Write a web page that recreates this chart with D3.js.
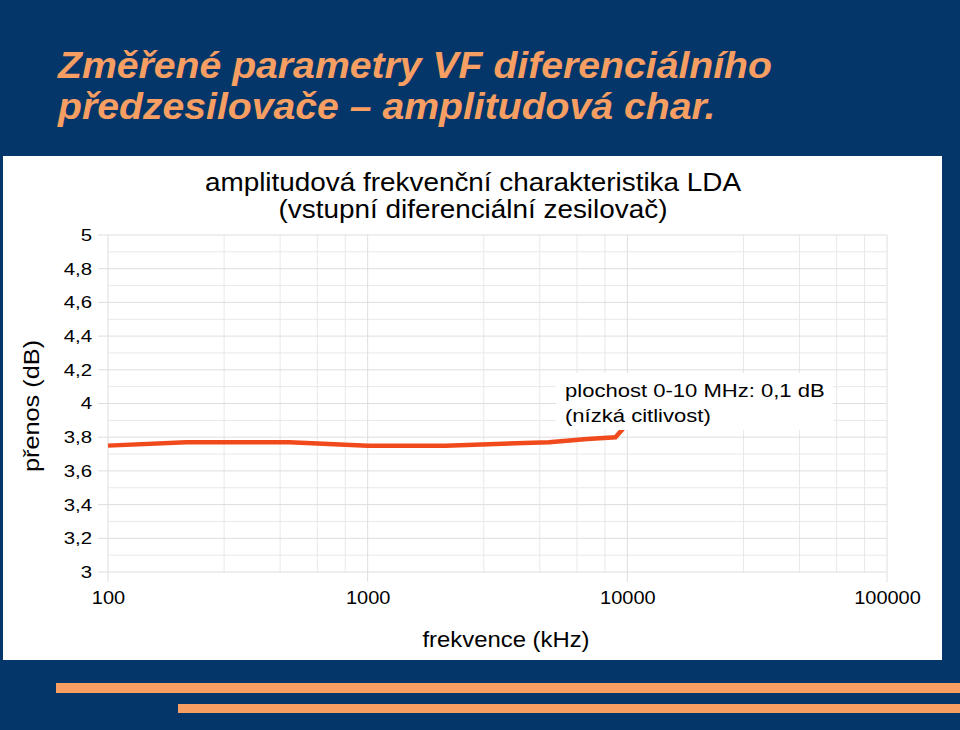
<!DOCTYPE html>
<html><head><meta charset="utf-8">
<script src="https://cdn.jsdelivr.net/npm/d3@7"></script>
<style>html,body{margin:0;padding:0;background:#05366a;}svg{display:block;}</style>
</head><body>
<script>
const freqs = [100, 200, 500, 1000, 2000, 5000, 7000, 9000, 10000];
const gains = [3.75, 3.77, 3.77, 3.75, 3.75, 3.77, 3.79, 3.80, 3.88];
const yTicks = [3, 3.2, 3.4, 3.6, 3.8, 4, 4.2, 4.4, 4.6, 4.8, 5];
const xTicks = [100, 1000, 10000, 100000];
const slideTitle = ["Změřené parametry VF diferenciálního", "předzesilovače – amplitudová char."];
const chartTitle = ["amplitudová frekvenční charakteristika LDA", "(vstupní diferenciální zesilovač)"];
const note = ["plochost 0-10 MHz: 0,1 dB", "(nízká citlivost)"];

const W = 960, H = 730;
const svg = d3.select("body").append("svg").attr("width", W).attr("height", H);
svg.append("rect").attr("width", W).attr("height", H).attr("fill", "#05366a");

const font = "'Liberation Sans', Arial, sans-serif";
const orange = "#f79e63";

// stretch a text horizontally by factor sx (glyphs widened)
function stretch(sel, sx) {
  sel.each(function () {
    const w = this.getComputedTextLength();
    d3.select(this).attr("textLength", w * sx).attr("lengthAdjust", "spacingAndGlyphs");
  });
}

// slide title
svg.append("g").selectAll("text").data(slideTitle).join("text")
  .attr("x", 58).attr("y", (d, i) => 78 + i * 41)
  .attr("font-family", font).attr("font-size", 36).attr("font-weight", "bold")
  .attr("font-style", "italic").attr("fill", orange).text(d => d)
  .call(stretch, 1.088);

// decorative stripes
svg.append("rect").attr("x", 56).attr("y", 683).attr("width", W - 56).attr("height", 10).attr("fill", orange);
svg.append("rect").attr("x", 178).attr("y", 704).attr("width", W - 178).attr("height", 9).attr("fill", orange);

// white panel
svg.append("rect").attr("x", 3).attr("y", 156).attr("width", 939).attr("height", 504).attr("fill", "#ffffff");

const x = d3.scaleLog().domain([100, 100000]).range([108, 887]);
const y = d3.scaleLinear().domain([3, 5]).range([572, 235]);

const grid = svg.append("g");
// minor vertical lines (5 linear intervals per decade)
const minorX = [];
[100, 1000, 10000].forEach(d => { for (let k = 1; k < 5; k++) minorX.push(d * (1 + 1.8 * k)); });
grid.selectAll("line.mx").data(minorX).join("line")
  .attr("x1", d => x(d)).attr("x2", d => x(d)).attr("y1", y(5)).attr("y2", y(3))
  .attr("stroke", "#e8e8e8").attr("stroke-width", 1);
// minor horizontal lines
const minorY = d3.range(0, 10).map(i => 3.1 + i * 0.2);
grid.selectAll("line.my").data(minorY).join("line")
  .attr("x1", x(100)).attr("x2", x(100000)).attr("y1", d => y(d)).attr("y2", d => y(d))
  .attr("stroke", "#e8e8e8").attr("stroke-width", 1);
// major vertical lines with outer ticks
grid.selectAll("line.Mx").data(xTicks).join("line")
  .attr("x1", d => x(d)).attr("x2", d => x(d)).attr("y1", y(5)).attr("y2", y(3) + 10)
  .attr("stroke", "#dedede").attr("stroke-width", 1);
grid.selectAll("line.My").data(yTicks).join("line")
  .attr("x1", x(100) - 10).attr("x2", x(100000)).attr("y1", d => y(d)).attr("y2", d => y(d))
  .attr("stroke", "#dedede").attr("stroke-width", 1);

// axes labels via d3 axes (no domain / tick lines)
const xAxis = svg.append("g").attr("transform", `translate(0,${y(3)})`)
  .call(d3.axisBottom(x).tickValues(xTicks).tickFormat(d3.format("d")).tickSize(0).tickPadding(19));
const yAxis = svg.append("g").attr("transform", `translate(${x(100) - 15},0)`)
  .call(d3.axisLeft(y).tickValues(yTicks).tickFormat(d => String(d).replace(".", ",")).tickSize(0).tickPadding(1));
[xAxis, yAxis].forEach(a => {
  a.select(".domain").remove();
  a.selectAll("text").attr("font-family", font).attr("fill", "#000");
});
xAxis.selectAll("text").attr("font-size", 18.5).call(stretch, 1.08);
yAxis.selectAll("text").attr("font-size", 17).call(stretch, 1.2);

// data line
const line = d3.line().x((d, i) => x(freqs[i])).y(d => y(d));
svg.append("path").datum(gains).attr("d", line)
  .attr("fill", "none").attr("stroke", "#f04a1c").attr("stroke-width", 4.5)
  .attr("stroke-linejoin", "miter");

// annotation box
svg.append("rect").attr("x", 556).attr("y", 373).attr("width", 277).attr("height", 57).attr("fill", "#ffffff");
svg.append("g").selectAll("text").data(note).join("text")
  .attr("x", 565).attr("y", (d, i) => 397 + i * 25)
  .attr("font-family", font).attr("font-size", 19).attr("fill", "#000").text(d => d)
  .call(stretch, 1.16);

// chart title
svg.append("g").selectAll("text").data(chartTitle).join("text")
  .attr("x", 473).attr("y", (d, i) => 191 + i * 27).attr("text-anchor", "middle")
  .attr("font-family", font).attr("font-size", 25).attr("fill", "#000").text(d => d)
  .call(stretch, 1.115);

// axis titles
svg.append("text").attr("x", 506).attr("y", 647).attr("text-anchor", "middle")
  .attr("font-family", font).attr("font-size", 22).attr("fill", "#000").text("frekvence (kHz)")
  .call(stretch, 1.085);
svg.append("text").attr("transform", `translate(39,406) rotate(-90)`).attr("text-anchor", "middle")
  .attr("font-family", font).attr("font-size", 22).attr("fill", "#000").text("přenos (dB)")
  .call(stretch, 1.15);
</script>
</body></html>
